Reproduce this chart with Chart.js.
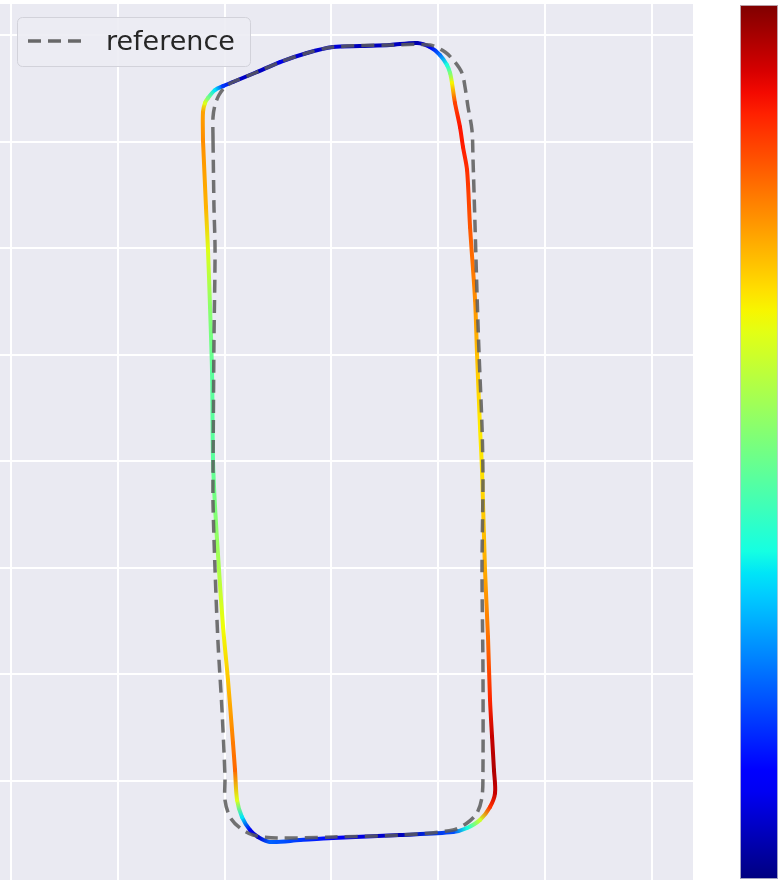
<!DOCTYPE html>
<html>
<head>
<meta charset="utf-8">
<script src="https://cdn.jsdelivr.net/npm/chart.js@4.4.1/dist/chart.umd.min.js"></script>
<style>
  html, body { margin: 0; padding: 0; background: #fff; }
  #wrap { width: 780px; height: 880px; position: relative; }
</style>
</head>
<body>
<div id="wrap"><canvas id="track-chart"></canvas></div>
<script>
// driven path (x, y) and the speed used for colouring, normalised 0..1
const trackX = [17.97, 17.97, 18.16, 18.44, 19.10, 19.85, 20.78, 23.03, 25.18, 27.71, 30.14, 32.67, 35.48, 38.01, 39.22,
  40.16, 40.81, 41.10, 41.28, 41.56, 42.03, 42.31, 42.69, 42.97, 43.44, 43.62, 43.90, 44.09, 44.37, 44.65,
  44.84, 45.03, 45.21, 45.31, 44.84, 43.90, 42.69, 41.38, 36.41, 30.14, 27.05, 24.25, 23.12, 22.37, 21.62,
  21.16, 20.97, 20.78, 20.31, 19.85, 19.47, 19.10, 18.91, 18.82, 18.63, 18.44, 18.25, 17.97];
const trackY = [60.15, 62.77, 63.62, 64.09, 64.84, 65.21, 65.59, 66.53, 67.46, 68.31, 68.87, 68.97, 69.06, 69.25, 68.87,
  68.12, 67.18, 66.43, 65.49, 63.62, 61.36, 59.49, 57.33, 51.98, 45.13, 40.16, 33.22, 29.18, 19.80, 13.51,
  7.60, 4.13, 1.03, -1.13, -2.44, -3.66, -4.41, -4.79, -5.07, -5.35, -5.54, -5.72, -5.25, -4.60, -3.38,
  -1.78, 1.03, 3.57, 9.48, 14.45, 19.80, 25.71, 30.12, 38.28, 44.48, 49.82, 53.86, 60.15];
const trackSpeed = [0.76, 0.74, 0.62, 0.50, 0.35, 0.18, 0.07, 0.05, 0.09, 0.06, 0.08, 0.05, 0.06, 0.04, 0.10,
  0.24, 0.38, 0.50, 0.65, 0.84, 0.89, 0.88, 0.86, 0.82, 0.76, 0.71, 0.66, 0.67, 0.73, 0.79,
  0.87, 0.94, 0.96, 0.94, 0.86, 0.60, 0.38, 0.20, 0.05, 0.12, 0.18, 0.22, 0.07, 0.10, 0.35,
  0.62, 0.80, 0.78, 0.70, 0.64, 0.56, 0.50, 0.46, 0.46, 0.52, 0.62, 0.72, 0.76];

// reference line
const refX = [18.91, 18.91, 19.10, 19.47, 20.03, 20.78, 23.03, 25.18, 27.71, 30.14, 35.48, 39.22, 40.63, 41.56, 42.22,
  42.50, 42.78, 43.15, 43.25, 43.44, 43.62, 43.81, 44.09, 44.18, 44.09, 44.18, 44.18, 44.09, 43.62, 42.69,
  41.38, 36.41, 30.14, 24.90, 22.65, 21.44, 20.50, 20.03, 20.03, 19.75, 19.38, 19.10, 18.91, 18.91, 19.00,
  19.10, 19.00, 18.91];
const refY = [60.15, 62.30, 63.43, 64.37, 65.12, 65.59, 66.53, 67.46, 68.31, 68.87, 69.06, 69.06, 68.40, 67.46, 66.43,
  65.12, 63.24, 61.08, 58.27, 51.98, 45.79, 40.16, 33.22, 28.24, 19.80, 10.42, 1.03, -1.50, -3.00, -3.94,
  -4.60, -5.07, -5.25, -5.35, -5.07, -4.41, -3.38, -1.78, 0.38, 6.66, 12.95, 19.80, 26.08, 28.90, 41.38,
  49.82, 53.86, 60.15];

const xTicks = [0, 10, 20, 30, 40, 50, 60];
const yTicks = [0, 10, 20, 30, 40, 50, 60, 70];

// matplotlib "jet"
const JET = {
  r: [[0, 0], [0.35, 0], [0.66, 1], [0.89, 1], [1, 0.5]],
  g: [[0, 0], [0.125, 0], [0.375, 1], [0.64, 1], [0.91, 0], [1, 0]],
  b: [[0, 0.5], [0.11, 1], [0.34, 1], [0.65, 0], [1, 0]],
};
function chan(stops, v) {
  for (let i = 1; i < stops.length; i++) {
    if (v <= stops[i][0]) {
      const [x0, y0] = stops[i - 1], [x1, y1] = stops[i];
      return y0 + (y1 - y0) * (v - x0) / (x1 - x0);
    }
  }
  return stops[stops.length - 1][1];
}
function jet(v) {
  v = Math.min(1, Math.max(0, v));
  const c = (k) => Math.round(chan(JET[k], v) * 255);
  return `rgb(${c("r")},${c("g")},${c("b")})`;
}

const bgPlugin = {
  id: "plotBg",
  beforeDraw(chart) {
    const { ctx, chartArea: a } = chart;
    ctx.save();
    ctx.fillStyle = "#EAEAF2";
    ctx.fillRect(a.left, a.top, a.right - a.left, a.bottom - a.top);
    ctx.restore();
  },
};

const legendBox = {
  id: "legendBox",
  afterDraw(chart) {
    const ctx = chart.ctx;
    ctx.save();
    ctx.beginPath();
    ctx.roundRect(17.5, 17.5, 233, 49, 5);
    ctx.fillStyle = "rgba(236,236,243,0.9)";
    ctx.fill();
    ctx.strokeStyle = "#d2d2da";
    ctx.lineWidth = 1;
    ctx.stroke();
    ctx.beginPath();
    ctx.setLineDash([13, 7]);
    ctx.moveTo(28, 41);
    ctx.lineTo(83, 41);
    ctx.strokeStyle = "rgba(90,90,90,0.9)";
    ctx.lineWidth = 3.5;
    ctx.stroke();
    ctx.setLineDash([]);
    ctx.fillStyle = "#262626";
    ctx.font = "27px 'DejaVu Sans'";
    ctx.textBaseline = "alphabetic";
    ctx.fillText("reference", 106, 50);
    ctx.restore();
  },
};

const colorBar = {
  id: "colorBar",
  afterDraw(chart) {
    const ctx = chart.ctx;
    const x0 = 740, x1 = 778, y0 = 5, y1 = 879;
    const g = ctx.createLinearGradient(0, y1, 0, y0);
    for (let i = 0; i <= 40; i++) g.addColorStop(i / 40, jet(i / 40));
    ctx.save();
    ctx.fillStyle = g;
    ctx.fillRect(x0, y0, x1 - x0, y1 - y0);
    ctx.strokeStyle = "rgba(200,200,210,0.8)";
    ctx.lineWidth = 1;
    ctx.strokeRect(x0 + 0.5, y0 + 0.5, x1 - x0 - 1, y1 - y0 - 1);
    ctx.restore();
  },
};

const fixedTicks = (vals) => (scale) => { scale.ticks = vals.map((v) => ({ value: v })); };

new Chart(document.getElementById("track-chart"), {
  type: "scatter",
  data: {
    datasets: [
      {
        label: "reference",
        data: refX.map((x, i) => ({ x, y: refY[i] })),
        showLine: true,
        borderColor: "rgba(90,90,90,0.85)",
        borderWidth: 3.5,
        borderDash: [13, 7],
        tension: 0.3,
        pointRadius: 0,
      },
      {
        label: "track",
        data: trackX.map((x, i) => ({ x, y: trackY[i] })),
        showLine: true,
        borderWidth: 4,
        borderCapStyle: "round",
        tension: 0.3,
        pointRadius: 0,
        segment: {
          borderColor: (c) => {
            const g = c.chart.ctx.createLinearGradient(c.p0.x, c.p0.y, c.p1.x, c.p1.y);
            g.addColorStop(0, jet(trackSpeed[c.p0DataIndex]));
            g.addColorStop(1, jet(trackSpeed[c.p1DataIndex]));
            return g;
          },
        },
      },
    ],
  },
  options: {
    responsive: true,
    maintainAspectRatio: false,
    animation: false,
    layout: { padding: { left: 0, top: 4, right: 87, bottom: 0 } },
    scales: {
      x: {
        type: "linear",
        min: -1.03,
        max: 63.84,
        afterBuildTicks: fixedTicks(xTicks),
        ticks: { display: false },
        grid: { color: "#ffffff", lineWidth: 2, drawTicks: false },
        border: { display: false },
      },
      y: {
        type: "linear",
        min: -9.29,
        max: 72.91,
        afterBuildTicks: fixedTicks(yTicks),
        ticks: { display: false },
        grid: { color: "#ffffff", lineWidth: 2, drawTicks: false },
        border: { display: false },
      },
    },
    plugins: {
      legend: { display: false },
      tooltip: { enabled: false },
    },
  },
  plugins: [bgPlugin, legendBox, colorBar],
});
</script>
</body>
</html>
